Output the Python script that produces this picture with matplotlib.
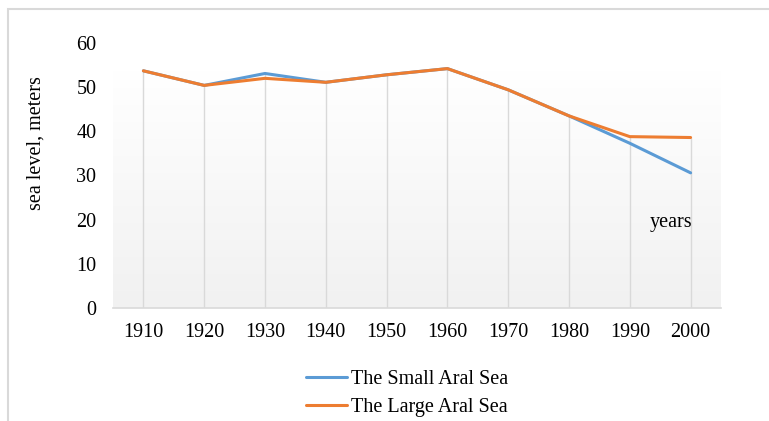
import matplotlib.pyplot as plt
import numpy as np
from matplotlib.patches import Rectangle

years = ['1910', '1920', '1930', '1940', '1950', '1960', '1970', '1980', '1990', '2000']
small_sea = [53.7, 50.4, 53.1, 51.1, 52.8, 54.2, 49.4, 43.5, 37.3, 30.6]
large_sea = [53.7, 50.4, 52.0, 51.1, 52.8, 54.2, 49.4, 43.5, 38.8, 38.6]

plt.rcParams['font.family'] = ['Liberation Serif', 'DejaVu Serif']
fs = 14.5

fig = plt.figure(figsize=(7.69, 4.21), dpi=100)
W, H = 769, 421
ax = fig.add_axes([113/W, (H-308)/H, (721-113)/W, (308-43)/H])

x = np.arange(len(years))

# plot area gradient (white -> light gray)
grad = np.linspace(0, 1, 256).reshape(-1, 1)
ax.imshow(grad, extent=[-0.5, len(years)-0.5, 0, 53.5], aspect='auto',
          cmap=plt.matplotlib.colors.LinearSegmentedColormap.from_list('g', ['#f1f1f1', '#ffffff']),
          origin='lower', zorder=0)

# drop lines
top = np.maximum(small_sea, large_sea)
ax.vlines(x, 0, top, color='#d9d9d9', lw=1, zorder=1)

ax.plot(x, small_sea, color='#5b9bd5', lw=2.2, label='The Small Aral Sea', zorder=3,
        solid_capstyle='round')
ax.plot(x, large_sea, color='#ed7d31', lw=2.2, label='The Large Aral Sea', zorder=4,
        solid_capstyle='round')

ax.set_xlim(-0.5, len(years)-0.5)
ax.set_ylim(0, 60)
ax.set_yticks(range(0, 61, 10))
ax.set_xticks(x)
ax.set_xticklabels(years)
ax.tick_params(axis='both', length=0, labelsize=fs, colors='#000000')
ax.tick_params(axis='y', pad=12)
ax.tick_params(axis='x', pad=11)
for s in ['top', 'right', 'left']:
    ax.spines[s].set_visible(False)
ax.spines['bottom'].set_color('#d9d9d9')
ax.spines['bottom'].set_linewidth(1.2)
ax.patch.set_alpha(0)

ax.text(8.68, 19.3, 'years', fontsize=fs, ha='center', va='center')
fig.text(36.5/W, (H-143)/H, 'sea level, meters', rotation=90, fontsize=fs,
         ha='center', va='center')

fig.legend(loc='center', bbox_to_anchor=(407/W, (H-393.5)/H), frameon=False,
           fontsize=fs, handlelength=2.05, handletextpad=0.2, labelspacing=0.4)

# outer chart border
fig.patches.append(Rectangle((7.5/W, -0.1), 1.2, (H-9)/H + 0.1, transform=fig.transFigure,
                             fill=False, edgecolor='#d9d9d9', lw=1.5))

fig.savefig('out.png', dpi=100)
